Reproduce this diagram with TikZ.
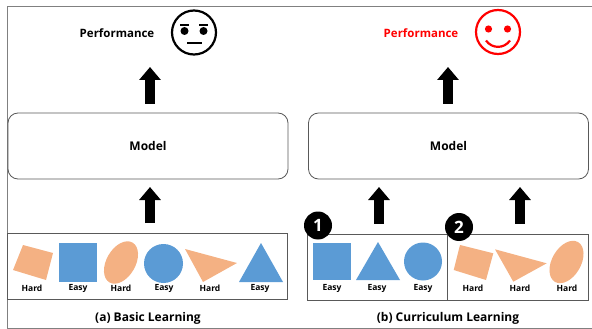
\documentclass[tikz,border=0pt]{standalone}
\usepackage{fontspec}
\setmainfont{Open Sans}
\usetikzlibrary{arrows.meta,calc,shapes.geometric}
\definecolor{cblue}{HTML}{5B9BD5}
\definecolor{corange}{HTML}{F4B183}
\definecolor{cframe}{HTML}{808080}
\definecolor{cbox}{HTML}{595959}
\begin{document}
\begin{tikzpicture}[x=1pt,y=-1pt,
  framest/.style={draw=cframe,line width=1pt},
  modelbox/.style={draw=cbox,line width=0.8pt,rounded corners=10pt,minimum width=280pt,minimum height=66pt,font=\bfseries\fontsize{12}{14}\selectfont,inner sep=0pt},
  databox/.style={draw=cbox,line width=1pt,minimum height=66pt,inner sep=0pt},
  bigarrow/.style={line width=10pt,-{Triangle[length=13pt,width=21pt]}},
  perf/.style={font=\bfseries\fontsize{11.5}{13}\selectfont,inner sep=0pt},
  lbl/.style={font=\bfseries\fontsize{8.5}{10}\selectfont,inner sep=0pt},
  capt/.style={font=\bfseries\fontsize{12}{14}\selectfont,inner sep=0pt},
  face/.style={circle,draw,line width=2.2pt,minimum size=44pt,inner sep=0pt},
  badge/.style={circle,fill=black,text=white,minimum size=28pt,inner sep=0pt,font=\bfseries\fontsize{17}{18}\selectfont},
  bshape/.style={fill=cblue},
  oshape/.style={fill=corange}]
\useasboundingbox (0,0) rectangle (592,329);
% outer frame (right edge lies beyond the picture)
\draw[framest] (640,7) -- (7,7) -- (7,328) -- (640,328);

% ---------- (a) Basic Learning ----------
\node[perf] (pA) at (117,33) {Performance};
\node[face] (fA) at (194,32.5) {};
\fill ($(fA.center)+(-9.5,-1.5)$) circle (4pt);
\fill ($(fA.center)+(9.5,-1.5)$) circle (4pt);
\draw[line width=2pt] ($(fA.center)+(-14,-7.5)$) -- ($(fA.center)+(-5.5,-7.5)$);
\draw[line width=2pt] ($(fA.center)+(5,-7.5)$) -- ($(fA.center)+(14,-7.5)$);
\draw[line width=2pt] ($(fA.center)+(-7,10.5)$) -- ($(fA.center)+(8,10.5)$);

\node[modelbox] (mA) at (148,146) {Model};
\node[databox,minimum width=280pt] (dA) at (147,266.5) {};

\coordinate (tA) at (150,67);
\coordinate (sA) at (150,187);
\draw[bigarrow] ($(mA.north-|tA)+(0,-9)$) -- (tA);
\draw[bigarrow] ($(dA.north-|sA)+(0,-10)$) -- (sA);

% shapes
\fill[oshape] (23,245) -- (53,253) -- (46,280) -- (13,270) -- cycle;
\fill[bshape] (59,243) rectangle (97,282);
\fill[oshape,rotate around={60:(121,262.5)}] (121,262.5) ellipse (23pt and 14.5pt);
\fill[bshape] (163.5,263.5) circle (19.5pt);
\fill[oshape] (185,249) -- (237,263) -- (203,282) -- cycle;
\fill[bshape] (261,243) -- (283,282) -- (239,282) -- cycle;

\node[lbl] (lA1) at (32,288) {Hard};
\node[lbl] (lA2) at (78,288) {Easy};
\node[lbl] (lA3) at (121,288) {Hard};
\node[lbl] (lA4) at (164,288) {Easy};
\node[lbl] (lA5) at (210,288) {Hard};
\node[lbl] (lA6) at (260,288) {Easy};

\node[capt] (cA) at (148,318) {(a) Basic Learning};

% ---------- (b) Curriculum Learning ----------
\node[perf,text=red] (pB) at (421,33) {Performance};
\node[face,draw=red] (fB) at (498,32) {};
\fill[red] ($(fB.center)+(-9.5,-3)$) circle (3.6pt);
\fill[red] ($(fB.center)+(9.5,-3)$) circle (3.6pt);
\draw[red,line width=2.2pt] ($(fB.center)+(-12,8.5)$) .. controls ($(fB.center)+(-6,17)$) and ($(fB.center)+(6,17)$) .. ($(fB.center)+(12,8.5)$);

\node[modelbox] (mB) at (448.5,146) {Model};
\node[databox,minimum width=140pt] (dB1) at (377,267) {};
\node[databox,minimum width=141pt] (dB2) at (517.5,267) {};

\coordinate (tB) at (448,67);
\coordinate (sB1) at (379,187);
\coordinate (sB2) at (520,187);
\draw[bigarrow] ($(mB.north-|tB)+(0,-9)$) -- (tB);
\draw[bigarrow] ($(dB1.north-|sB1)+(0,-10)$) -- (sB1);
\draw[bigarrow] ($(dB2.north-|sB2)+(0,-10)$) -- (sB2);

% shapes box 1
\fill[bshape] (313,243) rectangle (351,280);
\fill[bshape] (378,242) -- (400,280) -- (356,280) -- cycle;
\fill[bshape] (423,261.5) circle (19pt);
% shapes box 2
\fill[oshape] (460,245) -- (493.3,253.3) -- (486,280) -- (453.7,270) -- cycle;
\fill[oshape] (495,249.3) -- (546.7,263.3) -- (513.3,281.7) -- cycle;
\fill[oshape,rotate around={60:(566.5,262)}] (566.5,262) ellipse (23pt and 14.5pt);

\node[lbl] (lB1) at (332,288) {Easy};
\node[lbl] (lB2) at (377,288) {Easy};
\node[lbl] (lB3) at (423,288) {Easy};
\node[lbl] (lB4) at (473,288) {Hard};
\node[lbl] (lB5) at (520,288) {Hard};
\node[lbl] (lB6) at (567,288) {Hard};

\node[badge] (b1) at (318,225.5) {1};
\node[badge] (b2) at (459,227) {2};

\node[capt] (cB) at (448,318) {(b) Curriculum Learning};
\end{tikzpicture}
\end{document}
